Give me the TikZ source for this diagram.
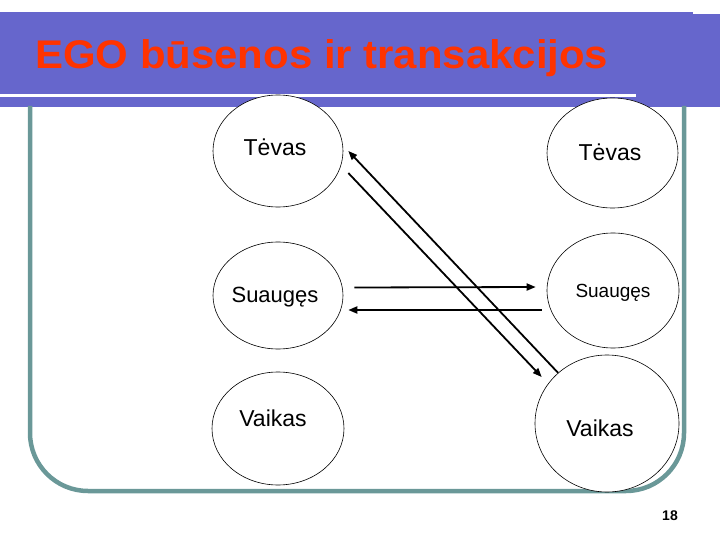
\documentclass[tikz,border=0pt]{standalone}
\usepackage{fontspec}
\setmainfont{Liberation Sans}
\usetikzlibrary{shapes.geometric,arrows.meta,calc}
\definecolor{barblue}{RGB}{102,102,204}
\definecolor{titlered}{RGB}{255,51,0}
\definecolor{frameteal}{RGB}{106,152,152}
\tikzset{
  ego/.style={ellipse,draw=black,line width=0.6pt,fill=white,inner sep=0pt},
  lbl/.style={inner sep=0pt,text=black},
  tr/.style={line width=1.8pt,-{Triangle[length=9pt,width=7pt]}},
}
\begin{document}
\begin{tikzpicture}[x=1pt,y=-1pt]
\useasboundingbox (0,0) rectangle (720,540);
% title bar
\fill[barblue] (0,12) rectangle (693,94);
\fill[barblue] (0,97) rectangle (636,107);
\fill[barblue] (636,94) rectangle (693,107);
\fill[barblue] (693,14) rectangle (720,107);
\node[lbl,anchor=base west,text=titlered,font=\fontsize{40}{44}\selectfont\bfseries] (title) at (35,69) {\scalebox{1.048}[1]{EGO būsenos ir transakcijos}};
% frame
\draw[frameteal,line width=4.5pt,rounded corners=58pt] (30,106) -- (30,491) -- (684,491) -- (684,106);
% ellipses
\node[ego,minimum width=130pt,minimum height=112pt] (lt) at (278,151) {};
\node[ego,minimum width=130pt,minimum height=107pt] (ls) at (278,295.5) {};
\node[ego,minimum width=132pt,minimum height=113pt] (lv) at (278,428.5) {};
\node[ego,minimum width=131pt,minimum height=110pt] (rt) at (612.5,153) {};
\node[ego,minimum width=132pt,minimum height=115pt] (rs) at (613,290.5) {};
\node[ego,minimum width=144pt,minimum height=137pt] (rv) at (607,423.5) {};
% labels
\node[lbl,font=\fontsize{23}{26}\selectfont] (ltt) at (275,147) {Tėvas};
\node[lbl,font=\fontsize{22}{25}\selectfont] (lst) at (275,297) {Suaugęs};
\node[lbl,font=\fontsize{23}{26}\selectfont] (lvt) at (273,418) {Vaikas};
\node[lbl,font=\fontsize{23}{26}\selectfont] (rtt) at (610,152) {Tėvas};
\node[lbl,font=\fontsize{19}{22}\selectfont] (rst) at (613,293) {Suaugęs};
\node[lbl,font=\fontsize{23}{26}\selectfont] (rvt) at (600,428) {Vaikas};
% transactions
\draw[tr] (rv.134) -- ([xshift=5pt]lt.east);
\draw[tr] ([xshift=5pt,yshift=-22pt]lt.east) -- ([xshift=7pt,yshift=46.5pt]rv.west);
\draw[tr] ([xshift=11pt,yshift=8pt]ls.east) -- ([xshift=-11pt,yshift=3.5pt]rs.west);
\draw[tr] ([xshift=-5pt,yshift=-19.5pt]rs.west) -- ([xshift=5pt,yshift=-14.5pt]ls.east);
% page number
\node[lbl,font=\fontsize{14}{16}\selectfont\bfseries] (pg) at (670,516) {18};
\end{tikzpicture}
\end{document}
